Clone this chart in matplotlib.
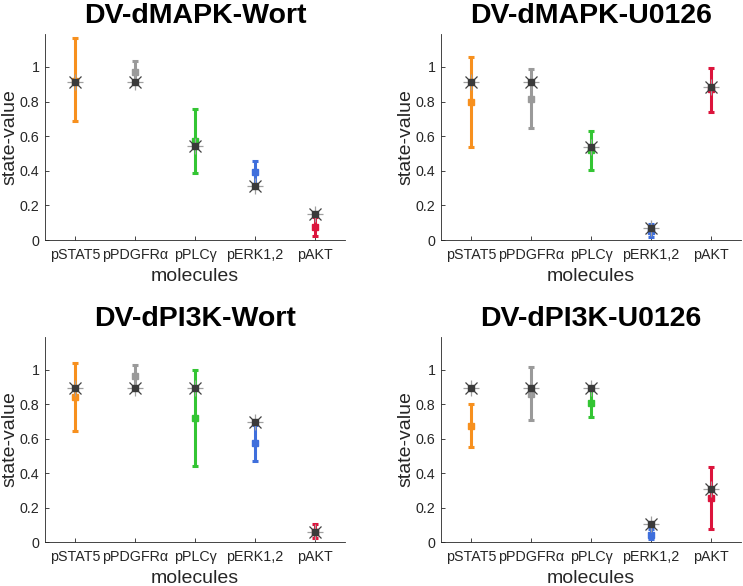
import numpy as np
import matplotlib
matplotlib.use("Agg")
import matplotlib.pyplot as plt

plt.rcParams['font.family'] = ['Liberation Sans', 'DejaVu Sans']

molecules = ['pSTAT5', 'pPDGFRα', 'pPLCγ', 'pERK1,2', 'pAKT']
colors = ['#f7901e', '#9a9a9a', '#33c533', '#3f6fdc', '#dc143c']

titles = ['DV-dMAPK-Wort', 'DV-dMAPK-U0126', 'DV-dPI3K-Wort', 'DV-dPI3K-U0126']

# experimental mean, error bar low/high, simulated state value
mean_mapk_wort = [0.92, 0.97, 0.57, 0.39, 0.077]
low_mapk_wort = [0.688, 0.905, 0.389, 0.325, 0.025]
high_mapk_wort = [1.166, 1.035, 0.757, 0.457, 0.13]
sim_mapk_wort = [0.915, 0.915, 0.545, 0.312, 0.148]

mean_mapk_u0126 = [0.80, 0.817, 0.52, 0.05, 0.87]
low_mapk_u0126 = [0.538, 0.648, 0.404, 0.015, 0.738]
high_mapk_u0126 = [1.058, 0.987, 0.629, 0.092, 0.994]
sim_mapk_u0126 = [0.913, 0.913, 0.538, 0.067, 0.885]

mean_pi3k_wort = [0.84, 0.962, 0.72, 0.575, 0.06]
low_pi3k_wort = [0.647, 0.89, 0.444, 0.473, 0.021]
high_pi3k_wort = [1.039, 1.029, 0.996, 0.68, 0.106]
sim_pi3k_wort = [0.894, 0.894, 0.894, 0.695, 0.058]

mean_pi3k_u0126 = [0.676, 0.86, 0.807, 0.04, 0.257]
low_pi3k_u0126 = [0.552, 0.71, 0.726, 0.015, 0.073]
high_pi3k_u0126 = [0.801, 1.016, 0.89, 0.073, 0.436]
sim_pi3k_u0126 = [0.894, 0.894, 0.894, 0.106, 0.305]

panels = [
    (mean_mapk_wort, low_mapk_wort, high_mapk_wort, sim_mapk_wort),
    (mean_mapk_u0126, low_mapk_u0126, high_mapk_u0126, sim_mapk_u0126),
    (mean_pi3k_wort, low_pi3k_wort, high_pi3k_wort, sim_pi3k_wort),
    (mean_pi3k_u0126, low_pi3k_u0126, high_pi3k_u0126, sim_pi3k_u0126),
]

W, H = 743, 586
fig = plt.figure(figsize=(W / 100, H / 100), dpi=100)

# axes boxes in pixels: left, top, right, bottom
boxes = [(45, 34, 345, 240), (441, 34, 741, 240),
         (45, 337, 345, 542), (441, 337, 741, 542)]

x = np.arange(1, len(molecules) + 1)

for k, (mean, low, high, sim) in enumerate(panels):
    l, t, r, b = boxes[k]
    ax = fig.add_axes([l / W, 1 - b / H, (r - l) / W, (b - t) / H])
    mean = np.array(mean)
    low = np.array(low)
    high = np.array(high)
    for i in range(len(molecules)):
        ax.errorbar(x[i], mean[i], yerr=[[mean[i] - low[i]], [high[i] - mean[i]]],
                    color=colors[i], lw=2.2, capsize=2.2, capthick=2.2,
                    marker='s', ms=4.5, mec=colors[i], mfc=colors[i], zorder=2)
    ax.plot(x, sim, ls='none', marker='+', ms=11, mew=0.9, color='#a0a0a0', zorder=3)
    ax.plot(x, sim, ls='none', marker='x', ms=8, mew=0.9, color='#404040', zorder=4)
    ax.plot(x, sim, ls='none', marker='s', ms=5, color='#3a3a3a', zorder=5)

    ax.set_xlim(0.5, 5.5)
    ax.set_ylim(0, 1.19)
    ax.set_xticks(x)
    ax.set_xticklabels(molecules)
    ax.set_yticks([0, 0.2, 0.4, 0.6, 0.8, 1])
    ax.set_yticklabels(['0', '0.2', '0.4', '0.6', '0.8', '1'])
    ax.tick_params(direction='in', length=3, width=0.6, labelsize=10.3,
                   colors='#262626', pad=4)
    ax.tick_params(axis='x', pad=6)
    for s in ['top', 'right']:
        ax.spines[s].set_visible(False)
    for s in ['left', 'bottom']:
        ax.spines[s].set_color('#262626')
        ax.spines[s].set_linewidth(0.6)
    ax.set_xlabel('molecules', fontsize=14, color='#262626')
    ax.xaxis.set_label_coords(0.5, -0.135)
    ax.set_ylabel('state-value', fontsize=14, color='#262626')
    ax.yaxis.set_label_coords(-0.09, 0.5)
    ax.set_title(titles[k], fontsize=20.5, fontweight='bold', pad=8)

fig.savefig('out.png', dpi=100)
